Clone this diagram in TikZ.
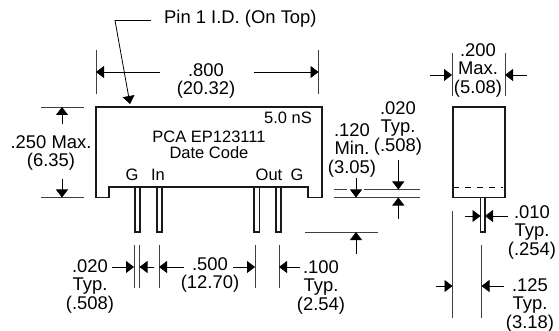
\documentclass[tikz,border=0pt]{standalone}
\usepackage{fontspec}
\setmainfont{Liberation Sans}
\usetikzlibrary{arrows.meta}
\tikzset{
  dim/.style={line width=0.8pt,black!75},
  dimarrow/.style={line width=0.8pt,black,-{Triangle[length=8pt,width=12pt]}},
  outline/.style={line width=1.3pt,black!90},
  lbl/.style={font=\fontsize{18.4}{18.5}\selectfont,align=center,inner sep=0pt},
  bodytxt/.style={font=\fontsize{16.5}{16.5}\selectfont,align=center,inner sep=0pt}
}
\begin{document}
\begin{tikzpicture}[x=1pt,y=-1pt]
\useasboundingbox (0,0) rectangle (559,331);
% front view
\draw[outline]
(96,107) -- (322,107) -- (322,197.5) -- (308,197.5) -- (308,187) -- (109,187) -- (109,197.5) -- (96,197.5) -- cycle
(135,187) -- (135,232) -- (140,232) -- (140,187)
(157,187) -- (157,232) -- (162,232) -- (162,187)
(254,187) -- (254,232) -- (259.5,232) -- (259.5,187)
(276,187) -- (276,232) -- (281,232) -- (281,187);
% side view
\draw[outline]
(453,107) rectangle (505,197.5)
(480.5,197.5) -- (480.5,232) -- (485,232) -- (485,197.5);
\draw[line width=0.8pt,dash pattern=on 6pt off 6pt] (453,187) -- (503,187);
% extension lines
\draw[dim]
(96,50) -- (96,94)
(318.5,50) -- (318.5,94)
(41,107) -- (84,107)
(41,197.5) -- (84,197.5)
(452,53) -- (452,96)
(505,53) -- (505,96)
(334,189.5) -- (347,189.5)
(364,189.5) -- (420,189.5)
(334,197.5) -- (420,197.5)
(305,232) -- (378,232)
(134,245) -- (134,288)
(139.5,245) -- (139.5,288)
(159,245) -- (159,288)
(255,245) -- (255,288)
(279,245) -- (279,288)
(452.5,211) -- (452.5,318)
(481.5,245) -- (481.5,318);
% dimension arrows
\draw[dimarrow] (160,72) -- (96,72);
\draw[dimarrow] (254,72) -- (318.5,72);
\draw[dimarrow] (62,124) -- (62,107);
\draw[dimarrow] (62,179) -- (62,197.5);
\draw[dimarrow] (430,75) -- (452,75);
\draw[dimarrow] (527,75) -- (505,75);
\draw[dimarrow] (356,178) -- (356,197.5);
\draw[dimarrow] (398.3,160) -- (398.3,189.5);
\draw[dimarrow] (398.3,219) -- (398.3,197.5);
\draw[dimarrow] (356,254) -- (356,232);
\draw[dimarrow] (112,267) -- (134,267);
\draw[dimarrow] (154,267) -- (139.5,267);
\draw[dimarrow] (184,267) -- (159,267);
\draw[dimarrow] (233,267) -- (255,267);
\draw[dimarrow] (300,267) -- (279,267);
\draw[dimarrow] (465,216) -- (480.5,216);
\draw[dimarrow] (507.7,216) -- (485,216);
\draw[dimarrow] (436,286) -- (452.5,286);
\draw[dimarrow] (504,286) -- (481.5,286);
% pin 1 leader
\node[lbl,anchor=west] (pinid) at (164,19) {Pin 1 I.D. (On Top)};
\coordinate (pintip) at (130,104);
\draw[dimarrow] (151,20.5) -- (115,20.5) -- (pintip);
% labels
\node[lbl] (len) at (206,81) {.800\\(20.32)};
\node[lbl] (hgt) at (51,153) {.250 Max.\\(6.35)};
\node[lbl] (wid) at (478,70) {.200\\Max.\\(5.08)};
\node[lbl] (stand) at (352,150) {.120\\Min.\\(3.05)};
\node[lbl] (thk) at (398,128) {.020\\Typ.\\(.508)};
\node[lbl] (pinw) at (90,286) {.020\\Typ.\\(.508)};
\node[lbl] (span) at (210,275) {.500\\(12.70)};
\node[lbl] (pitch) at (321,287) {.100\\Typ.\\(2.54)};
\node[lbl] (pint) at (532,232) {.010\\Typ.\\(.254)};
\node[lbl] (offs) at (530,305) {.125\\Typ.\\(3.18)};
% body text
\node[bodytxt,anchor=east] (speed) at (312,118) {5.0 nS};
\node[bodytxt] (part) at (209,137) {PCA EP123111};
\node[bodytxt] (date) at (209,153) {Date Code};
\node[bodytxt] (pa) at (132,175) {G};
\node[bodytxt] (pb) at (158,175) {In};
\node[bodytxt] (pc) at (269,175) {Out};
\node[bodytxt] (pd) at (297,175) {G};
\end{tikzpicture}
\end{document}
